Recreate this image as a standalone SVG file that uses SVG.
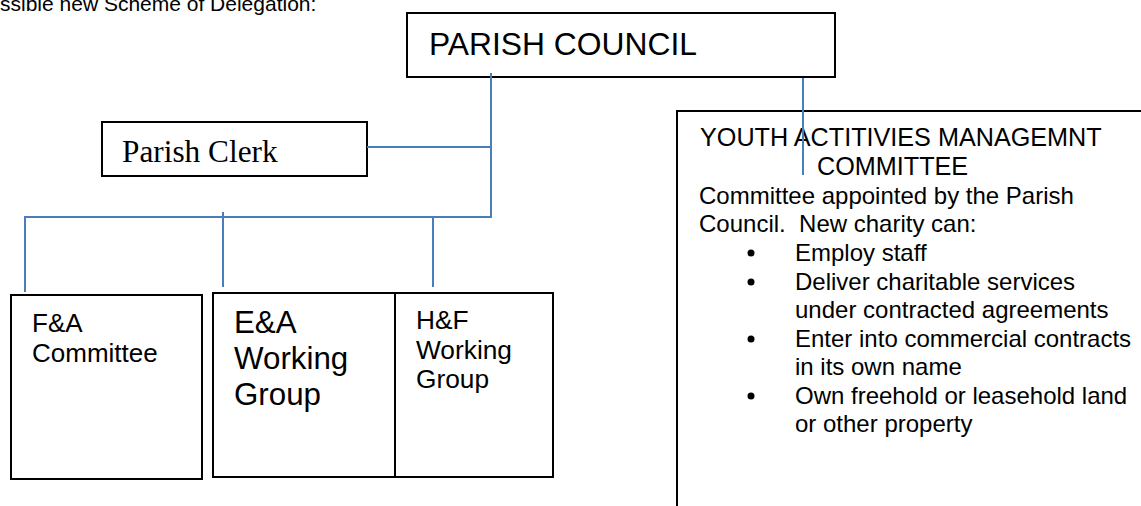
<svg xmlns="http://www.w3.org/2000/svg" width="1141" height="506" viewBox="0 0 1141 506">
<style>
.box{fill:#fff;stroke:#000;stroke-width:2}
.conn{stroke:#4a7ebb;stroke-width:2;fill:none}
.sans{font-family:"Liberation Sans",Arial,sans-serif;fill:#000}
.serif{font-family:"Liberation Serif","Times New Roman",serif;fill:#000}
</style>
<rect width="1141" height="506" fill="#fff"/>
<text class="sans" x="0" y="11" font-size="21">ssible new Scheme of Delegation:</text>
<g id="parish-council">
<rect class="box" x="407" y="13" width="428" height="64"/>
<text class="sans" x="429" y="55" font-size="31.8">PARISH COUNCIL</text>
</g>
<g id="parish-clerk">
<rect class="box" x="102" y="122" width="265" height="54"/>
<text class="serif" x="122" y="162" font-size="31.3">Parish Clerk</text>
</g>
<g id="fa-committee">
<rect class="box" x="11" y="295" width="191" height="184"/>
<text class="sans" font-size="26"><tspan x="32" y="332">F&amp;A</tspan><tspan x="32" y="362">Committee</tspan></text>
</g>
<g id="ea-working-group">
<rect class="box" x="213" y="293" width="182" height="184"/>
<text class="sans" font-size="31.3"><tspan x="234" y="333">E&amp;A</tspan><tspan x="234" y="369">Working</tspan><tspan x="234" y="405">Group</tspan></text>
</g>
<g id="hf-working-group">
<rect class="box" x="395" y="293" width="158" height="184"/>
<text class="sans" font-size="26.3"><tspan x="416" y="329">H&amp;F</tspan><tspan x="416" y="359">Working</tspan><tspan x="416" y="388">Group</tspan></text>
</g>
<g id="youth-committee">
<rect class="box" x="677" y="111" width="500" height="420"/>
<text class="sans" font-size="25.2">
<tspan x="700" y="146">YOUTH ACTITIVIES MANAGEMNT</tspan>
<tspan x="817" y="175">COMMITTEE</tspan>
</text>
<text class="sans" font-size="24">
<tspan x="699" y="204">Committee appointed by the Parish</tspan>
<tspan x="699" y="232">Council.&#160; New charity can:</tspan>
<tspan x="795" y="261">Employ staff</tspan>
<tspan x="795" y="290">Deliver charitable services</tspan>
<tspan x="795" y="318">under contracted agreements</tspan>
<tspan x="795" y="347">Enter into commercial contracts</tspan>
<tspan x="795" y="375">in its own name</tspan>
<tspan x="795" y="404">Own freehold or leasehold land</tspan>
<tspan x="795" y="432">or other property</tspan>
</text>
<circle cx="751" cy="253" r="3.5"/>
<circle cx="751" cy="282" r="3.5"/>
<circle cx="751" cy="339" r="3.5"/>
<circle cx="751" cy="396" r="3.5"/>
</g>
<g id="connectors">
<line class="conn" x1="491" y1="73" x2="491" y2="217"/>
<line class="conn" x1="367" y1="147" x2="491" y2="147"/>
<line class="conn" x1="25" y1="217" x2="492" y2="217"/>
<line class="conn" x1="25" y1="216" x2="25" y2="292"/>
<line class="conn" x1="223" y1="212" x2="223" y2="287"/>
<line class="conn" x1="433" y1="217" x2="433" y2="287"/>
<line class="conn" x1="803" y1="78" x2="803" y2="175"/>
</g>
</svg>
